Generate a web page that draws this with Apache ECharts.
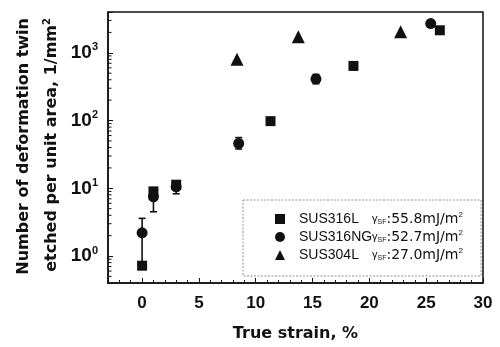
<!DOCTYPE html>
<html><head><meta charset="utf-8">
<script src="https://cdn.jsdelivr.net/npm/echarts@6/dist/echarts.min.js"></script>
<style>html,body{margin:0;padding:0;background:#fff}#c{width:500px;height:347px}</style>
</head><body><div id="c"></div>
<script>
const seriesNames = ['SUS316L', 'SUS316NG', 'SUS304L'];
const gammaSF = [55.8, 52.7, 27.0];
const sus316L = [[0, 0.72], [1, 9], [3, 11.3], [11.3, 98], [18.6, 640], [26.2, 2150]];
const sus316NG = [[0, 2.2], [1, 7.5], [3, 10.5], [8.5, 46], [15.3, 410], [25.4, 2700]];
const sus304L = [[8.35, 800], [13.75, 1720], [22.75, 2050]];
const sus316NGErr = [[0, 0.8, 3.6], [1, 4.5, 10], [3, 8.3, 12.5], [8.5, 38, 56], [15.3, 350, 480]];
const xTicks = [0, 5, 10, 15, 20, 25, 30];
const yMinorTicks = [0.5, 0.6, 0.7, 0.8, 0.9, 2, 3, 4, 5, 6, 7, 8, 9, 20, 30, 40, 50, 60, 70, 80, 90,
  200, 300, 400, 500, 600, 700, 800, 900, 2000, 3000];
const xMin = -3, xMax = 30, yMin = 0.4, yMax = 4000;

const chart = echarts.init(document.getElementById('c'), null, {renderer: 'canvas'});
const lab = {fontFamily: 'Liberation Sans', fontWeight: 'bold', color: '#111'};
const ttl = {fontFamily: 'DejaVu Sans', fontWeight: 'bold', fontSize: 16, fill: '#111'};
const blk = {color: '#111', opacity: 1};

chart.setOption({
  animation: false,
  backgroundColor: '#fff',
  grid: {left: 108, right: 17, top: 12, bottom: 59, show: true, borderColor: '#111', borderWidth: 1.5, backgroundColor: 'transparent'},
  xAxis: [{
    type: 'value', min: xMin, max: xMax,
    axisLine: {onZero: false, lineStyle: {color: '#111', width: 1.5}},
    axisTick: {inside: true, length: 5, customValues: xTicks, lineStyle: {color: '#111'}},
    axisLabel: {customValues: xTicks, margin: 12, fontSize: 17, ...lab},
    splitLine: {show: false},
    name: 'True strain, %', nameLocation: 'middle', nameGap: 43,
    nameTextStyle: {fontFamily: 'DejaVu Sans', fontWeight: 'bold', fontSize: 16, color: '#111'}
  }, {
    type: 'value', min: xMin, max: xMax, interval: 1, position: 'bottom',
    axisLine: {show: false, onZero: false},
    axisTick: {inside: true, length: 3, lineStyle: {color: '#111'}},
    axisLabel: {show: false}, splitLine: {show: false}
  }],
  yAxis: {
    type: 'log', logBase: 10, min: yMin, max: yMax,
    axisLine: {show: true, onZero: false, lineStyle: {color: '#111', width: 1.5}},
    axisTick: {inside: true, length: 5, lineStyle: {color: '#111'}},
    axisLabel: {
      margin: 10,
      formatter: function (v) {
        const e = Math.log10(v);
        if (Math.abs(e - Math.round(e)) > 1e-6) return '';
        return '{b|10}{s|' + Math.round(e) + '}';
      },
      rich: {
        b: {fontSize: 19, ...lab},
        s: {fontSize: 11, padding: [0, 0, 11, 0], ...lab}
      }
    },
    splitLine: {show: false}
  },
  legend: {
    orient: 'vertical', left: 270, top: 206, itemGap: 3,
    itemWidth: 10, itemHeight: 10,
    data: [{name: seriesNames[0], icon: 'rect'}, {name: seriesNames[1], icon: 'circle'}, {name: seriesNames[2], icon: 'triangle'}],
    formatter: function (name) {
      const i = seriesNames.indexOf(name);
      return '{n|' + name + '}{g|γ}{sub|SF}{v|:' + gammaSF[i].toFixed(1) + 'mJ/m}{sup|2}';
    },
    textStyle: {
      color: '#111', padding: [0, 0, 0, 9],
      rich: {
        n: {fontFamily: 'Liberation Sans', fontSize: 14, width: 73, color: '#111'},
        g: {fontFamily: 'Liberation Sans', fontSize: 11, color: '#111'},
        sub: {fontFamily: 'Liberation Sans', fontSize: 7, padding: [7, 0, 0, 0], color: '#111'},
        v: {fontFamily: 'DejaVu Sans', fontSize: 14, color: '#111'},
        sup: {fontFamily: 'Liberation Sans', fontSize: 8, padding: [0, 0, 8, 0], color: '#111'}
      }
    }
  },
  graphic: [
    {type: 'rect', shape: {x: 243, y: 200, width: 238, height: 76},
      style: {fill: 'none', stroke: '#777', lineWidth: 0.8, lineDash: [2, 1.5]}, z: 5},
    {type: 'text', x: 24, y: 18, rotation: Math.PI / 2,
      style: {text: 'Number of deformation twin', align: 'right', verticalAlign: 'middle', ...ttl}},
    {type: 'text', x: 52, y: 18, rotation: Math.PI / 2,
      style: {text: '{a|etched per unit area, 1/mm}{s|2}', align: 'right', verticalAlign: 'middle',
        rich: {a: {...ttl, fontSize: 16}, s: {...ttl, fontSize: 10, padding: [0, 0, 9, 0]}}}}
  ],
  series: [
    {name: seriesNames[0], type: 'scatter', symbol: 'rect', symbolSize: 10, data: sus316L, z: 3,
      itemStyle: blk},
    {name: seriesNames[1], type: 'scatter', symbol: 'circle', symbolSize: 11, data: sus316NG, z: 3,
      itemStyle: blk},
    {name: seriesNames[2], type: 'scatter', symbol: 'triangle', symbolSize: 13, data: sus304L, z: 3,
      itemStyle: blk},
    {type: 'custom', data: sus316NGErr, encode: {x: 0, y: [1, 2]}, z: 2, clip: false,
      renderItem: function (params, api) {
        const x = api.value(0);
        const lo = api.coord([x, api.value(1)]);
        const hi = api.coord([x, api.value(2)]);
        const w = 3.5, st = {stroke: '#111', lineWidth: 1.6};
        return {type: 'group', children: [
          {type: 'line', shape: {x1: lo[0], y1: lo[1], x2: hi[0], y2: hi[1]}, style: st},
          {type: 'line', shape: {x1: hi[0] - w, y1: hi[1], x2: hi[0] + w, y2: hi[1]}, style: st},
          {type: 'line', shape: {x1: lo[0] - w, y1: lo[1], x2: lo[0] + w, y2: lo[1]}, style: st}
        ]};
      }},
    {type: 'custom', data: yMinorTicks.map(v => [xMin, v]), encode: {x: 0, y: 1}, z: 2, silent: true, clip: false,
      renderItem: function (params, api) {
        const p = api.coord([api.value(0), api.value(1)]);
        return {type: 'line', shape: {x1: p[0], y1: p[1], x2: p[0] + 3.5, y2: p[1]},
          style: {stroke: '#111', lineWidth: 1}};
      }}
  ]
});
</script></body></html>
